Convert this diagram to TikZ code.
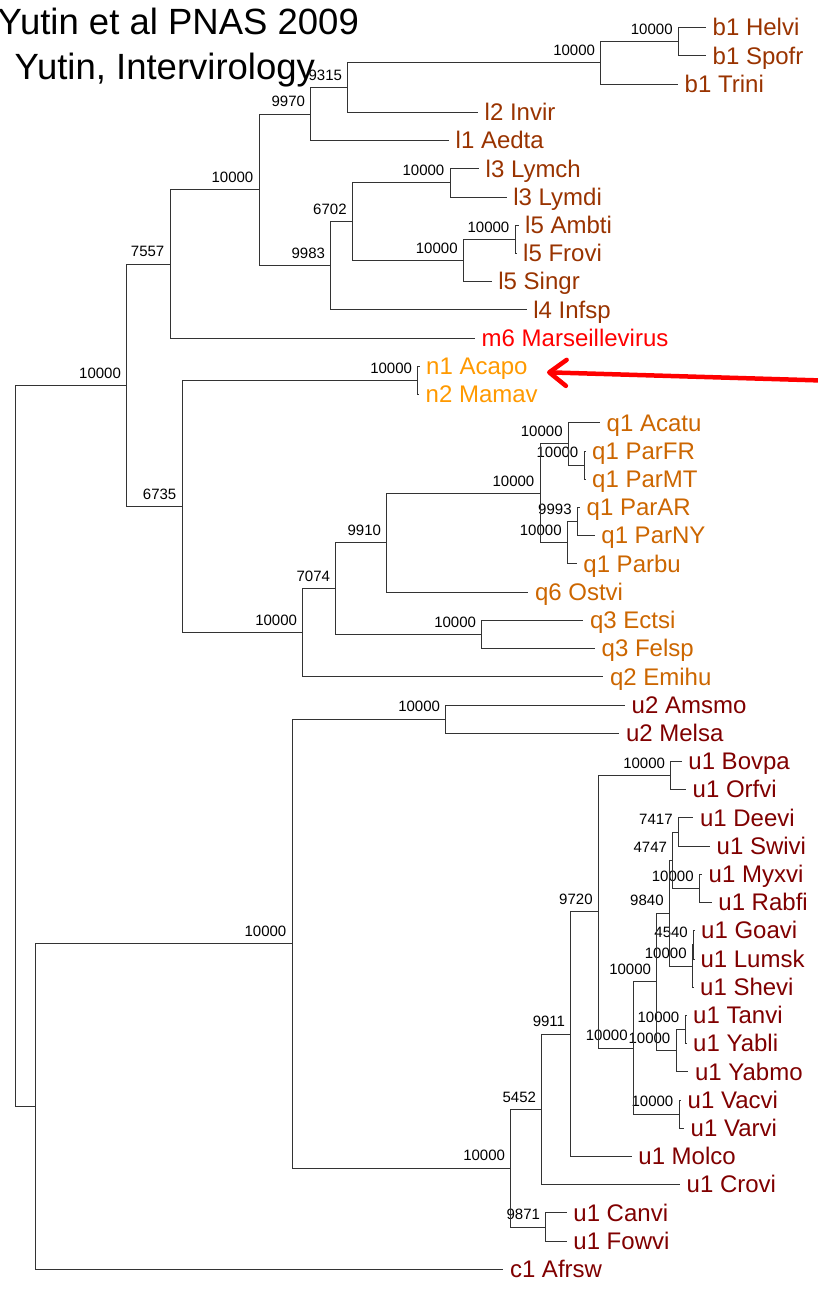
\documentclass[tikz,border=0pt]{standalone}
\usepackage{fontspec}
\setmainfont{Liberation Sans}
\usetikzlibrary{arrows.meta}
\definecolor{cb}{HTML}{993300}
\definecolor{cm}{HTML}{FF0000}
\definecolor{cn}{HTML}{FF9900}
\definecolor{cq}{HTML}{CC6600}
\definecolor{cu}{HTML}{800000}
\newcommand\mkleaf[5]{%
  \coordinate (#1) at (#2,#3);
  \node[leaflab,text=#4] (#1-l) at (#2+6.5,#3+8.2) {#5};}
\newcommand\mkint[4]{%
  \coordinate (#1) at (#2,#3);
  \node[bslab] (#1-b) at (#2-5.5,#3-7.3) {#4};}
\newcommand\mkedge[2]{\draw[br] (#1) |- (#2);}
\begin{document}
\begin{tikzpicture}[x=1pt,y=-1pt,
  br/.style={draw=black!80,line width=1pt},
  leaflab/.style={anchor=base west,inner sep=0pt,font=\fontsize{24}{28}\selectfont},
  bslab/.style={anchor=base east,inner sep=0pt,font=\fontsize{15}{18}\selectfont},
  titlelab/.style={inner sep=0pt,font=\fontsize{36.5}{40}\selectfont}]
\useasboundingbox (0,0) rectangle (817,1290);
% titles
\node[titlelab,anchor=base west] (title1) at (-2.5,35) {Yutin et al PNAS 2009};
\node[titlelab,anchor=base west] (title2) at (14.5,80) {Yutin, Intervirology};
% leaves
\mkleaf{Helvi}{706}{27.7}{cb}{b1 Helvi}
\mkleaf{Spofr}{706}{55.9}{cb}{b1 Spofr}
\mkleaf{Trini}{678}{84.1}{cb}{b1 Trini}
\mkleaf{Invir}{478}{112.4}{cb}{l2 Invir}
\mkleaf{Aedta}{449}{140.6}{cb}{l1 Aedta}
\mkleaf{Lymch}{479}{168.8}{cb}{l3 Lymch}
\mkleaf{Lymdi}{506.7}{197.0}{cb}{l3 Lymdi}
\mkleaf{Ambti}{518.5}{225.2}{cb}{l5 Ambti}
\mkleaf{Frovi}{516.5}{253.5}{cb}{l5 Frovi}
\mkleaf{Singr}{491.7}{281.7}{cb}{l5 Singr}
\mkleaf{Infsp}{526.7}{309.9}{cb}{l4 Infsp}
\mkleaf{Marse}{475}{338.1}{cm}{m6 Marseillevirus}
\mkleaf{Acapo}{419.5}{366.3}{cn}{n1 Acapo}
\mkleaf{Mamav}{419}{394.6}{cn}{n2 Mamav}
\mkleaf{Acatu}{600}{422.8}{cq}{q1 Acatu}
\mkleaf{ParFR}{585.5}{451.0}{cq}{q1 ParFR}
\mkleaf{ParMT}{585.5}{479.2}{cq}{q1 ParMT}
\mkleaf{ParAR}{580}{507.4}{cq}{q1 ParAR}
\mkleaf{ParNY}{594.7}{535.7}{cq}{q1 ParNY}
\mkleaf{Parbu}{576.7}{563.9}{cq}{q1 Parbu}
\mkleaf{Ostvi}{528.3}{592.1}{cq}{q6 Ostvi}
\mkleaf{Ectsi}{583.3}{620.3}{cq}{q3 Ectsi}
\mkleaf{Felsp}{595}{648.5}{cq}{q3 Felsp}
\mkleaf{Emihu}{603.3}{676.8}{cq}{q2 Emihu}
\mkleaf{Amsmo}{625}{705.0}{cu}{u2 Amsmo}
\mkleaf{Melsa}{619.3}{733.2}{cu}{u2 Melsa}
\mkleaf{Bovpa}{681.7}{761.4}{cu}{u1 Bovpa}
\mkleaf{Orfvi}{686}{789.6}{cu}{u1 Orfvi}
\mkleaf{Deevi}{693.3}{817.9}{cu}{u1 Deevi}
\mkleaf{Swivi}{710}{846.1}{cu}{u1 Swivi}
\mkleaf{Myxvi}{702}{874.3}{cu}{u1 Myxvi}
\mkleaf{Rabfi}{711.7}{902.5}{cu}{u1 Rabfi}
\mkleaf{Goavi}{694.5}{930.7}{cu}{u1 Goavi}
\mkleaf{Lumsk}{693.8}{959.0}{cu}{u1 Lumsk}
\mkleaf{Shevi}{693.5}{987.2}{cu}{u1 Shevi}
\mkleaf{Tanvi}{686.5}{1015.4}{cu}{u1 Tanvi}
\mkleaf{Yabli}{686.5}{1043.6}{cu}{u1 Yabli}
\mkleaf{Yabmo}{688.3}{1071.8}{cu}{u1 Yabmo}
\mkleaf{Vacvi}{681}{1100.1}{cu}{u1 Vacvi}
\mkleaf{Varvi}{684}{1128.3}{cu}{u1 Varvi}
\mkleaf{Molco}{631.7}{1156.5}{cu}{u1 Molco}
\mkleaf{Crovi}{680}{1184.7}{cu}{u1 Crovi}
\mkleaf{Canvi}{566.7}{1212.9}{cu}{u1 Canvi}
\mkleaf{Fowvi}{566.7}{1241.2}{cu}{u1 Fowvi}
\mkleaf{Afrsw}{503.3}{1269.4}{cu}{c1 Afrsw}
% internal nodes
\coordinate (R) at (15,745.9);
\coordinate (U) at (35.7,1106.5);
\mkint{T}{126.6}{385.3}{10000}
\mkint{Nss}{170}{264.0}{7557}
\mkint{Nla}{259}{189.98}{10000}
\mkint{Nnsv}{310.7}{114.15}{9970}
\mkint{Nnth}{347.7}{87.7}{9315}
\mkint{Nb}{600.7}{62.95}{10000}
\mkint{Nhs}{678.3}{41.8}{10000}
\mkint{Nnne}{330.7}{265.8}{9983}
\mkint{Nsx}{352.3}{221.7}{6702}
\mkint{NLy}{450}{182.9}{10000}
\mkint{Nfive}{463.3}{260.5}{10000}
\mkint{NAF}{515}{239.35}{10000}
\mkint{Nsts}{182}{506.6}{6735}
\mkint{Nn}{417.7}{380.45}{10000}
\mkint{Nq}{302.7}{632.7}{10000}
\mkint{Nsvs}{335.7}{588.55}{7074}
\mkint{Nnnt}{386.7}{542.7}{9910}
\mkint{Nqone}{540}{493.3}{10000}
\mkint{Na}{568.3}{443.95}{10000}
\mkint{NFM}{584}{465.1}{10000}
\mkint{Nbb}{567.3}{542.7}{10000}
\mkint{NAN}{577.3}{521.55}{9993}
\mkint{NEF}{481.7}{634.4}{10000}
\mkint{Nu}{292}{943.65}{10000}
\mkint{NAM}{445.7}{719.1}{10000}
\mkint{Nc}{510.7}{1168.2}{10000}
\mkint{Nffft}{541.7}{1109.4}{5452}
\mkint{Nnnoo}{570.7}{1034.15}{9911}
\mkint{Nnst}{598.3}{911.8}{9720}
\mkint{NBO}{670.7}{775.5}{10000}
\mkint{Nsix}{633.3}{1048.05}{10000}
\mkint{Nsev}{656.7}{981.9}{10000}
\mkint{Nnef}{669.3}{913.1}{9840}
\mkint{Nfsf}{672.7}{860.2}{4747}
\mkint{NDS}{678.3}{832.0}{7417}
\mkint{NMR}{699.3}{888.4}{10000}
\mkint{NGLS}{692.3}{966.0}{10000}
\mkint{NGL}{693.5}{944.85}{4540}
\mkint{NTYY}{676}{1050.65}{10000}
\mkint{NTY}{685}{1029.5}{10000}
\mkint{NVV}{679}{1114.2}{10000}
\mkint{NCF}{545.7}{1227.05}{9871}
% edges
\mkedge{R}{T}\mkedge{R}{U}
\mkedge{T}{Nss}\mkedge{T}{Nsts}
\mkedge{Nss}{Nla}\mkedge{Nss}{Marse}
\mkedge{Nla}{Nnsv}\mkedge{Nla}{Nnne}
\mkedge{Nnsv}{Nnth}\mkedge{Nnsv}{Aedta}
\mkedge{Nnth}{Nb}\mkedge{Nnth}{Invir}
\mkedge{Nb}{Nhs}\mkedge{Nb}{Trini}
\mkedge{Nhs}{Helvi}\mkedge{Nhs}{Spofr}
\mkedge{Nnne}{Nsx}\mkedge{Nnne}{Infsp}
\mkedge{Nsx}{NLy}\mkedge{Nsx}{Nfive}
\mkedge{NLy}{Lymch}\mkedge{NLy}{Lymdi}
\mkedge{Nfive}{NAF}\mkedge{Nfive}{Singr}
\mkedge{NAF}{Ambti}\mkedge{NAF}{Frovi}
\mkedge{Nsts}{Nn}\mkedge{Nsts}{Nq}
\mkedge{Nn}{Acapo}\mkedge{Nn}{Mamav}
\mkedge{Nq}{Nsvs}\mkedge{Nq}{Emihu}
\mkedge{Nsvs}{Nnnt}\mkedge{Nsvs}{NEF}
\mkedge{Nnnt}{Nqone}\mkedge{Nnnt}{Ostvi}
\mkedge{Nqone}{Na}\mkedge{Nqone}{Nbb}
\mkedge{Na}{Acatu}\mkedge{Na}{NFM}
\mkedge{NFM}{ParFR}\mkedge{NFM}{ParMT}
\mkedge{Nbb}{NAN}\mkedge{Nbb}{Parbu}
\mkedge{NAN}{ParAR}\mkedge{NAN}{ParNY}
\mkedge{NEF}{Ectsi}\mkedge{NEF}{Felsp}
\mkedge{U}{Nu}\mkedge{U}{Afrsw}
\mkedge{Nu}{NAM}\mkedge{Nu}{Nc}
\mkedge{NAM}{Amsmo}\mkedge{NAM}{Melsa}
\mkedge{Nc}{Nffft}\mkedge{Nc}{NCF}
\mkedge{Nffft}{Nnnoo}\mkedge{Nffft}{Crovi}
\mkedge{Nnnoo}{Nnst}\mkedge{Nnnoo}{Molco}
\mkedge{Nnst}{NBO}\mkedge{Nnst}{Nsix}
\mkedge{NBO}{Bovpa}\mkedge{NBO}{Orfvi}
\mkedge{Nsix}{Nsev}\mkedge{Nsix}{NVV}
\mkedge{Nsev}{Nnef}\mkedge{Nsev}{NTYY}
\mkedge{Nnef}{Nfsf}\mkedge{Nnef}{NGLS}
\mkedge{Nfsf}{NDS}\mkedge{Nfsf}{NMR}
\mkedge{NDS}{Deevi}\mkedge{NDS}{Swivi}
\mkedge{NMR}{Myxvi}\mkedge{NMR}{Rabfi}
\mkedge{NGLS}{NGL}\mkedge{NGLS}{Shevi}
\mkedge{NGL}{Goavi}\mkedge{NGL}{Lumsk}
\mkedge{NTYY}{NTY}\mkedge{NTYY}{Yabmo}
\mkedge{NTY}{Tanvi}\mkedge{NTY}{Yabli}
\mkedge{NVV}{Vacvi}\mkedge{NVV}{Varvi}
\mkedge{NCF}{Canvi}\mkedge{NCF}{Fowvi}
% red arrow
\coordinate (arrowfrom) at (822,380.5);
\coordinate (arrowtip) at (547,372.3);
\draw[draw=red,line width=4.5pt,-{Straight Barb[length=17pt,width=26pt,round]}] (arrowfrom) -- (arrowtip);
\end{tikzpicture}
\end{document}
